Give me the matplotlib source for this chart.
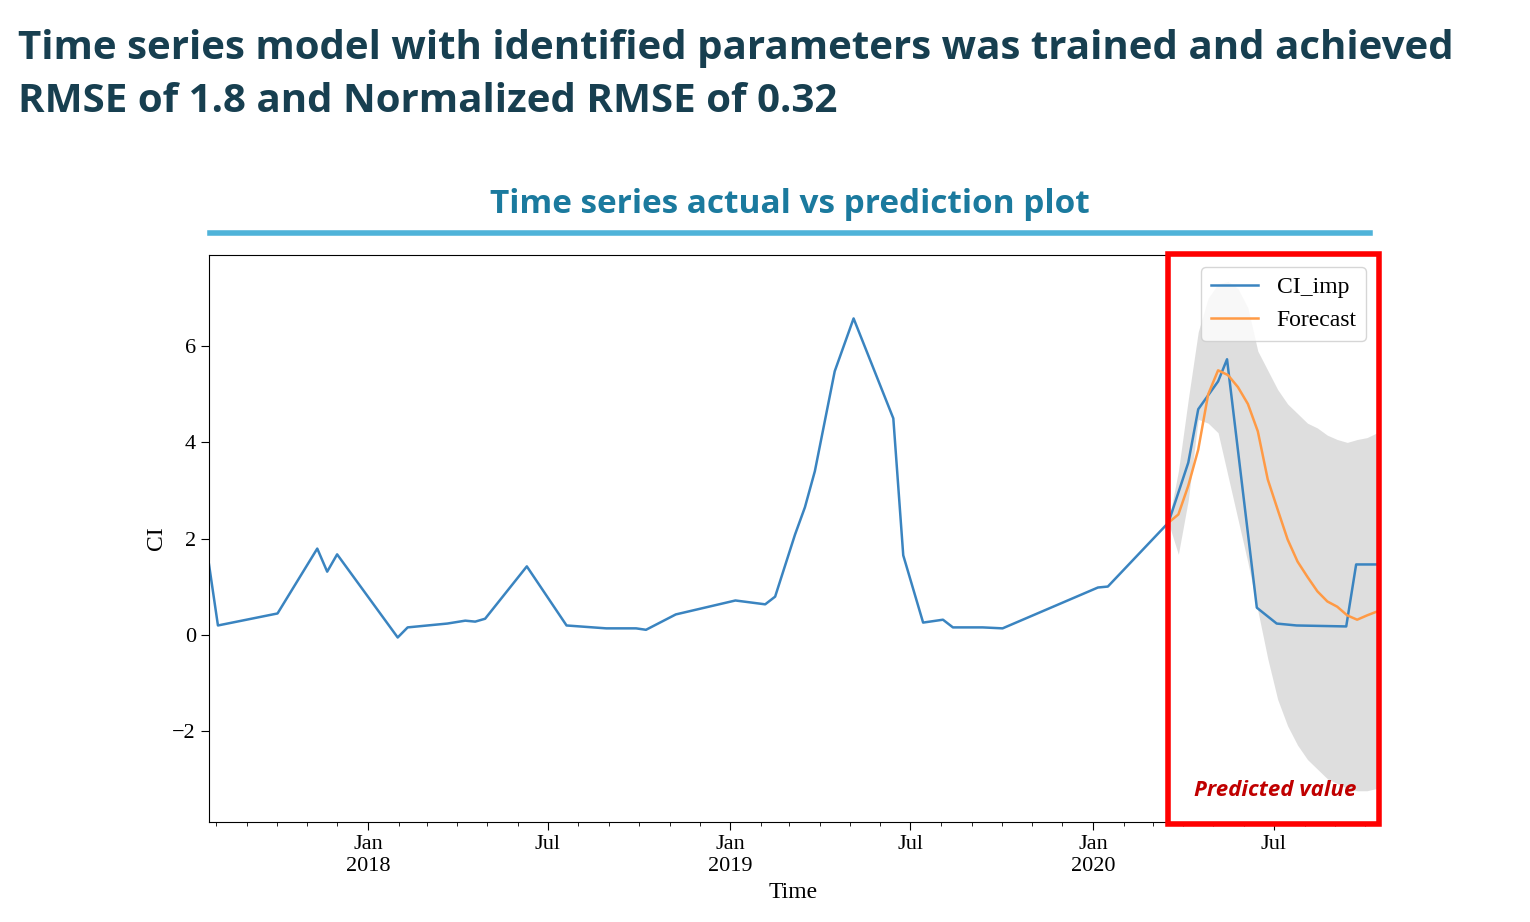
import matplotlib
matplotlib.use("Agg")
import matplotlib.pyplot as plt
import matplotlib.dates as mdates
import pandas as pd
from matplotlib.patches import Rectangle
from matplotlib.lines import Line2D

actual_dates = ["2017-07-25","2017-08-03","2017-10-02","2017-11-11","2017-11-21","2017-12-01",
"2018-01-31","2018-02-10","2018-03-22","2018-04-09","2018-04-19","2018-04-29","2018-06-10",
"2018-07-20","2018-08-29","2018-09-28","2018-10-08","2018-11-07","2019-01-06","2019-02-05",
"2019-02-15","2019-03-07","2019-03-17","2019-03-27","2019-04-16","2019-05-05","2019-06-14",
"2019-06-24","2019-07-14","2019-08-03","2019-08-13","2019-09-12","2019-10-02","2020-01-06",
"2020-01-16","2020-03-17","2020-04-06","2020-04-16","2020-05-06","2020-05-15","2020-06-14",
"2020-07-04","2020-07-24","2020-09-12","2020-09-22","2020-10-14"]
actual_vals = [1.46,0.19,0.44,1.79,1.31,1.67,-0.06,0.15,0.23,0.29,0.27,0.33,1.42,0.19,0.13,0.13,
0.10,0.42,0.71,0.63,0.79,2.08,2.65,3.4,5.48,6.58,4.5,1.65,0.25,0.31,0.15,0.15,0.13,0.98,1.0,
2.33,3.58,4.69,5.27,5.73,0.56,0.23,0.19,0.17,1.46,1.46]

fc_dates = pd.date_range("2020-03-17", periods=22, freq="10D")
fc_vals = [2.33,2.5,3.1,3.85,5.0,5.5,5.4,5.15,4.8,4.23,3.23,2.6,1.98,1.52,1.2,0.9,0.69,0.58,0.4,0.31,0.4,0.48]
fc_upper = [2.33,3.4,4.9,6.3,7.0,7.3,7.35,7.2,6.8,5.9,5.5,5.1,4.8,4.6,4.4,4.3,4.15,4.06,4.0,4.06,4.1,4.2]
fc_lower = [2.33,1.67,2.8,4.48,4.4,4.2,3.3,2.4,1.5,0.5,-0.5,-1.35,-1.9,-2.3,-2.6,-2.8,-3.0,-3.1,-3.2,-3.25,-3.25,-3.2]

fig = plt.figure(figsize=(15.3, 9.22), dpi=100)
ax = fig.add_axes([209/1530, 1-822/922, (1378-209)/1530, (822-255)/922])
ad = pd.to_datetime(actual_dates)
ax.fill_between(fc_dates, fc_lower, fc_upper, color="#d9d9d9", alpha=0.85, lw=0)
ax.plot(ad, actual_vals, color="#3a84c0", lw=1.8, label="CI_imp")
ax.plot(fc_dates, fc_vals, color="#ff9a45", lw=1.8, label="Forecast")
ax.set_xlim(pd.Timestamp("2017-07-25"), pd.Timestamp("2020-10-14"))
ax.set_ylim(-3.9, 7.9)
serif = "Liberation Serif"
ax.set_yticks([-2, 0, 2, 4, 6])
ax.set_yticklabels(["\u22122", "0", "2", "4", "6"], family=serif, fontsize=16)
maj = pd.to_datetime(["2018-01-01","2018-07-01","2019-01-01","2019-07-01","2020-01-01","2020-07-01"])
ax.set_xticks(maj)
ax.set_xticklabels(["Jan\n2018","Jul","Jan\n2019","Jul","Jan\n2020","Jul"], family=serif, fontsize=16)
ax.xaxis.set_minor_locator(mdates.MonthLocator())
ax.tick_params(which="major", length=6)
ax.tick_params(which="minor", length=3)
ax.set_xlabel("Time", family=serif, fontsize=17)
ax.set_ylabel("CI", family=serif, fontsize=17)
leg = ax.legend(loc="upper right", prop={"family": serif, "size": 17}, framealpha=0.8)

fig.text(18/1530, 1-48/922, "Time series model with identified parameters was trained and achieved",
         fontsize=29, fontweight="bold", color="#173f50", family="Open Sans", va="center")
fig.text(18/1530, 1-101/922, "RMSE of 1.8 and Normalized RMSE of 0.32",
         fontsize=29, fontweight="bold", color="#173f50", family="Open Sans", va="center")
fig.text(790/1530, 1-204/922, "Time series actual vs prediction plot", fontsize=24, fontweight="bold",
         color="#1b7a9e", family="Open Sans", ha="center", va="center")
fig.add_artist(Line2D([210/1530, 1370/1530], [1-233/922]*2, color="#4fb3d9", lw=4))
fig.add_artist(Rectangle((1168/1530, 1-824/922), 211/1530, 570/922, fill=False,
                         edgecolor="#ff0000", lw=4, transform=fig.transFigure))
fig.text(1275/1530, 1-790/922, "Predicted value", fontsize=16, fontweight="bold", style="italic",
         color="#c00000", family="Open Sans", ha="center", va="center")
fig.savefig("out.png", dpi=100)
